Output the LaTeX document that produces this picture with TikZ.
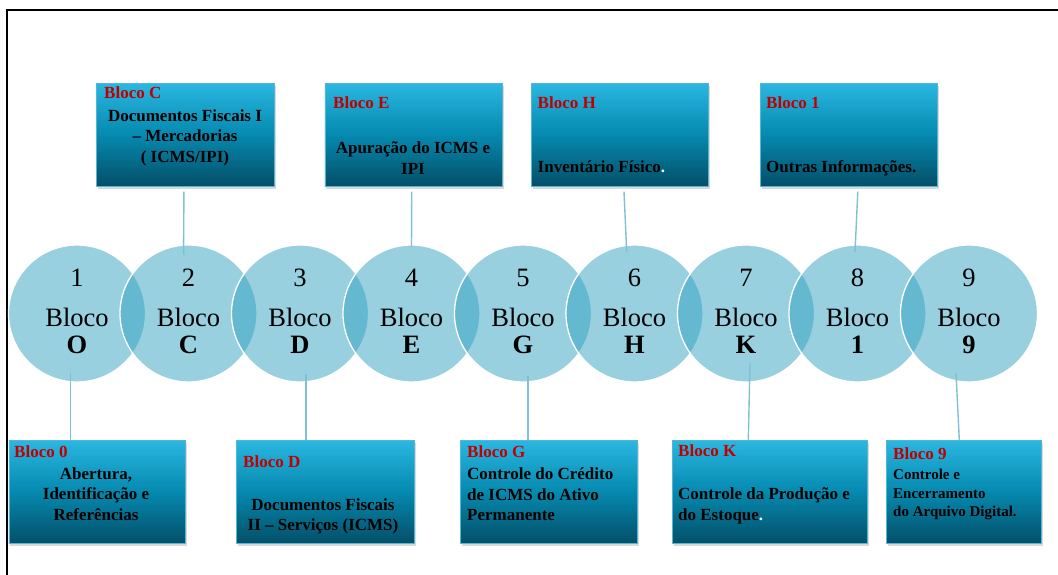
\documentclass[tikz,border=0pt]{standalone}
\usepackage{fontspec}
\setmainfont{Liberation Serif}
\usetikzlibrary{shadows}
\definecolor{circfill}{HTML}{31A1BF}
\definecolor{boxtop}{HTML}{2AB7E1}
\definecolor{boxmid}{HTML}{0589AF}
\definecolor{boxbot}{HTML}{044F68}
\definecolor{boxedge}{HTML}{56B5D4}
\definecolor{connc}{HTML}{80C0D4}
\definecolor{titlered}{HTML}{C00000}
\begin{document}
\begin{tikzpicture}[x=1pt,y=-1pt,
  infobox/.style={rectangle, draw=boxedge, line width=0.6pt,
    top color=boxtop, bottom color=boxbot, middle color=boxmid,
    minimum width=#1, minimum height=103, anchor=north west, inner sep=0,
    drop shadow={shadow xshift=1.5pt, shadow yshift=-2.5pt, opacity=0.3}},
  infobox/.default=177,
  blob/.style={circle, minimum size=137, inner sep=0, fill=circfill,
    fill opacity=0.5, draw=white, draw opacity=1, line width=1.3pt},
  ctext/.style={font=\fontsize{26.5}{27}\selectfont, align=center, anchor=north, inner sep=0},
  btitle/.style={font=\fontsize{17}{20}\bfseries\selectfont, text=titlered, anchor=base west, inner sep=0},
  bbody/.style={font=\fontsize{17}{20.5}\bfseries\selectfont, text=black, inner sep=0},
  bsmall/.style={font=\fontsize{15}{18.5}\bfseries\selectfont, text=black, inner sep=0},
  link/.style={draw=connc, line width=1.4pt}
]
\useasboundingbox (0,0) rectangle (1058,575);
\draw[line width=2pt] (7,575) -- (7,10) -- (1058,10);

% circles
\foreach \i in {1,...,9} {
  \node[blob] (c\i) at ({77+111.5*(\i-1)},313.5) {};
}
\node[ctext] (t1) at (c1.center |- 0,269) {1\\[13pt]Bloco\\\textbf{O}};
\node[ctext] (t2) at (c2.center |- 0,269) {2\\[13pt]Bloco\\\textbf{C}};
\node[ctext] (t3) at (c3.center |- 0,269) {3\\[13pt]Bloco\\\textbf{D}};
\node[ctext] (t4) at (c4.center |- 0,269) {4\\[13pt]Bloco\\\textbf{E}};
\node[ctext] (t5) at (c5.center |- 0,269) {5\\[13pt]Bloco\\\textbf{G}};
\node[ctext] (t6) at (c6.center |- 0,269) {6\\[13pt]Bloco\\\textbf{H}};
\node[ctext] (t7) at (c7.center |- 0,269) {7\\[13pt]Bloco\\\textbf{K}};
\node[ctext] (t8) at (c8.center |- 0,269) {8\\[13pt]Bloco\\\textbf{1}};
\node[ctext] (t9) at (c9.center |- 0,269) {9\\[13pt]Bloco\\\textbf{9}};

% connector end points inside the circles
\coordinate (pC) at (183.6,255);
\coordinate (pE) at (411.5,247);
\coordinate (pH) at (626.7,252);
\coordinate (p1) at (855,252);
\coordinate (p0) at (70.3,373);
\coordinate (pD) at (306,374);
\coordinate (pG) at (528,376);
\coordinate (pK) at (750,363);
\coordinate (p9) at (956,373);

% boxes
\node[infobox=178] (bC) at (96,83) {};
\node[infobox=177.5] (bE) at (324.5,83) {};
\node[infobox=177] (bH) at (531,83) {};
\node[infobox=177] (b1) at (760,83) {};
\node[infobox=176.5] (b0) at (8.5,440) {};
\node[infobox=178] (bD) at (236,440) {};
\node[infobox=177] (bG) at (460,440) {};
\node[infobox=195] (bK) at (672,440) {};
\node[infobox=155] (b9) at (886,440) {};

% connectors
\draw[link] ([xshift=-1.4]bC.south) ++(0,5) -- (pC);
\draw[link] ([xshift=-1.8]bE.south) ++(0,5) -- (pE);
\draw[link] ([xshift=4.2]bH.south) ++(0,5) -- (pH);
\draw[link] ([xshift=9]b1.south) ++(0,5) -- (p1);
\draw[link] (p0) -- (b0.north -| p0);
\draw[link] (pD) -- (bD.north -| pD);
\draw[link] (pG) -- (bG.north -| pG);
\draw[link] (pK) -- ([xshift=-21.5]bK.north);
\draw[link] (p9) -- ([xshift=-4.5]b9.north);

% titles
\node[btitle] (hC) at (104,99) {Bloco C};
\node[btitle] (hE) at (333,109) {Bloco E};
\node[btitle] (hH) at (537.5,109) {Bloco H};
\node[btitle] (h1) at (766,109) {Bloco 1};
\node[btitle] (h0) at (14,457) {Bloco 0};
\node[btitle] (hD) at (243,467) {Bloco D};
\node[btitle] (hG) at (467,457) {Bloco G};
\node[btitle] (hK) at (678,456) {Bloco K};
\node[btitle] (h9) at (893,459) {Bloco 9};

% bodies
\node[bbody, align=center, anchor=north] (xC) at (185,109.5)
  {Documentos Fiscais I\\– Mercadorias\\( ICMS/IPI)};
\node[bbody, align=center, anchor=north] (xE) at (413,141.5)
  {Apuração do ICMS e\\IPI};
\node[bbody, anchor=base west] (xH) at (537.5,173)
  {Inventário Físico{\color{white}.}};
\node[bbody, anchor=base west] (x1) at (766,173)
  {Outras Informações.};
\node[bbody, align=center, anchor=north] (x0) at (96,467.5)
  {Abertura,\\Identificação e\\Referências};
\node[bbody, align=center, anchor=north] (xD) at (323,498.5)
  {Documentos Fiscais\\II – Serviços (ICMS)};
\node[bbody, align=left, anchor=north west] (xG) at (467,467.5)
  {Controle do Crédito\\de ICMS do Ativo\\Permanente};
\node[bbody, align=left, anchor=north west] (xK) at (678,487.5)
  {Controle da Produção e\\do Estoque{\color{white}.}};
\node[bsmall, align=left, anchor=north west] (x9) at (893,469)
  {Controle e\\Encerramento\\do Arquivo Digital.};
\end{tikzpicture}
\end{document}
